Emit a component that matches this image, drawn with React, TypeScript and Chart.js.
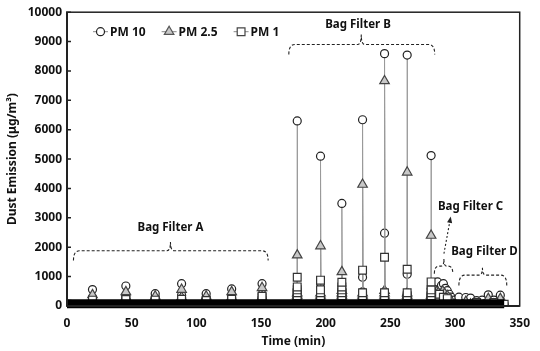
import React, { useEffect, useRef } from 'react';
import { Chart, registerables } from 'chart.js';

Chart.register(...registerables);

// ---------- data (time in min, dust emission in µg/m³) ----------
const pm10Time = [
  0,
  19.2, 19.7, 19.7, 19.7, 19.7, 20.2,
  45.0, 45.5, 45.5, 45.5, 45.5, 45.5, 46.0,
  67.7, 68.2, 68.2, 68.2, 68.2, 68.7,
  88.1, 88.6, 88.6, 88.6, 88.6, 88.6, 89.1,
  107.1, 107.6, 107.6, 107.6, 107.6, 108.1,
  126.8, 127.3, 127.3, 127.3, 127.3, 127.3, 127.8,
  150.3, 150.8, 150.8, 150.8, 150.8, 150.8, 151.3,
  177.5, 178, 178, 178, 178, 178, 178, 178, 178, 178.5,
  195.5, 196, 196, 196, 196, 196, 196, 196, 196, 196.5,
  212, 212.5, 212.5, 212.5, 212.5, 212.5, 212.5, 212.5, 212.5, 213,
  228, 228.5, 228.5, 228.5, 228.5, 228.5, 228.5, 228.5, 228.5, 229,
  245, 245.5, 245.5, 245.5, 245.5, 245.5, 245.5, 245.5, 245.5, 246,
  262.5, 263, 263, 263, 263, 263, 263, 263, 263.5,
  281, 281.5, 281.5, 281.5, 281.5, 281.5, 281.5, 281.5, 282,
  286.5, 288, 289.5, 291, 292.5, 294, 295.5, 297, 299,
  303, 307, 308.3, 311, 312, 315, 316.7, 319, 321, 323, 325.7, 328, 330, 332, 335, 338,
];
const pm10Value = [
  60,
  60, 130, 210, 290, 560, 60,
  60, 130, 210, 290, 370, 680, 60,
  60, 130, 210, 290, 420, 60,
  60, 130, 210, 290, 370, 760, 60,
  60, 130, 210, 290, 420, 60,
  60, 130, 210, 290, 370, 580, 60,
  60, 130, 210, 290, 400, 760, 60,
  60, 130, 200, 270, 340, 410, 480, 550, 6300, 60,
  60, 130, 200, 270, 340, 410, 480, 780, 5100, 60,
  60, 130, 200, 270, 340, 410, 480, 550, 3490, 60,
  60, 130, 200, 270, 340, 410, 480, 980, 6340, 60,
  60, 130, 200, 270, 340, 410, 480, 2480, 8590, 60,
  60, 130, 200, 270, 340, 410, 1080, 8540, 60,
  60, 130, 200, 270, 340, 410, 600, 5120, 60,
  820, 560, 700, 760, 600, 520, 400, 300, 200,
  300, 100, 290, 100, 270, 80, 180, 80, 200, 80, 380, 80, 200, 80, 370, 60,
];

const pm25Time = [
  0,
  19.2, 19.7, 19.7, 19.7, 20.2,
  45.0, 45.5, 45.5, 45.5, 45.5, 46.0,
  67.7, 68.2, 68.2, 68.2, 68.7,
  88.1, 88.6, 88.6, 88.6, 88.6, 89.1,
  107.1, 107.6, 107.6, 107.6, 108.1,
  126.8, 127.3, 127.3, 127.3, 127.3, 127.8,
  150.3, 150.8, 150.8, 150.8, 150.8, 151.3,
  177.5, 178, 178, 178, 178, 178, 178, 178.5,
  195.5, 196, 196, 196, 196, 196, 196, 196.5,
  212, 212.5, 212.5, 212.5, 212.5, 212.5, 212.5, 212.5, 213,
  228, 228.5, 228.5, 228.5, 228.5, 228.5, 228.5, 229,
  245, 245.5, 245.5, 245.5, 245.5, 245.5, 245.5, 245.5, 246,
  262.5, 263, 263, 263, 263, 263, 263, 263.5,
  281, 281.5, 281.5, 281.5, 281.5, 281.5, 282,
  287, 289, 290.5, 292, 294, 296,
  300, 308.3, 312, 325.7, 330, 335, 338,
];
const pm25Value = [
  60,
  60, 120, 200, 380, 60,
  60, 120, 200, 300, 480, 60,
  60, 120, 200, 330, 60,
  60, 120, 200, 300, 560, 60,
  60, 120, 200, 330, 60,
  60, 120, 200, 300, 480, 60,
  60, 120, 200, 300, 620, 60,
  60, 120, 200, 280, 360, 440, 1730, 60,
  60, 120, 200, 280, 360, 440, 2040, 60,
  60, 120, 200, 280, 360, 440, 520, 1160, 60,
  60, 120, 200, 280, 360, 440, 4135, 60,
  60, 120, 200, 280, 360, 440, 520, 7660, 60,
  60, 120, 200, 280, 360, 440, 4550, 60,
  60, 120, 200, 280, 360, 2400, 60,
  450, 380, 500, 420, 350, 250,
  60, 150, 60, 250, 60, 250, 60,
];

const pm1Time = [
  0,
  19.2, 19.7, 19.7, 20.2,
  45.0, 45.5, 45.5, 46.0,
  67.7, 68.2, 68.2, 68.7,
  88.1, 88.6, 88.6, 89.1,
  107.1, 107.6, 107.6, 108.1,
  126.8, 127.3, 127.3, 127.8,
  150.3, 150.8, 150.8, 150.8, 151.3,
  177.5, 178, 178, 178, 178, 178, 178, 178, 178.5,
  195.5, 196, 196, 196, 196, 196, 196, 196.5,
  212, 212.5, 212.5, 212.5, 212.5, 212.5, 212.5, 212.5, 213,
  228, 228.5, 228.5, 228.5, 228.5, 228.5, 229,
  245, 245.5, 245.5, 245.5, 245.5, 245.5, 246,
  262.5, 263, 263, 263, 263, 263, 263.5,
  281, 281.5, 281.5, 281.5, 281.5, 281.5, 281.5, 282,
  288, 291, 294,
  300, 316.7, 330, 338,
];
const pm1Value = [
  60,
  60, 120, 200, 60,
  60, 120, 220, 60,
  60, 120, 200, 60,
  60, 120, 230, 60,
  60, 120, 190, 60,
  60, 120, 230, 60,
  60, 120, 200, 330, 60,
  60, 150, 250, 350, 450, 550, 650, 980, 60,
  60, 150, 250, 350, 450, 550, 880, 60,
  60, 150, 250, 350, 450, 550, 650, 810, 60,
  60, 150, 250, 350, 450, 1220, 60,
  60, 150, 250, 350, 450, 1660, 60,
  60, 150, 250, 350, 450, 1250, 60,
  60, 150, 250, 350, 450, 550, 820, 60,
  400, 300, 250,
  60, 120, 120, 60,
];

// dense near-zero readings drawn as a solid band
const bandTime = [0, 338];
const bandValue = [80, 80];

const xTicks = [0, 50, 100, 150, 200, 250, 300, 350];
const yTicks = [0, 1000, 2000, 3000, 4000, 5000, 6000, 7000, 8000, 9000, 10000];

const seriesLabels = ['PM 10', 'PM 2.5', 'PM 1'];

// bracket annotations (data coordinates)
const braces = [
  { label: 'Bag Filter A', x1: 5, x2: 155.5, yLine: 1880, yEnd: 1550, xTip: 80, yTip: 2180, tx: 80, ty: 2680 },
  { label: 'Bag Filter B', x1: 171.5, x2: 284.3, yLine: 8900, yEnd: 8560, xTip: 227.5, yTip: 9240, tx: 225, ty: 9560 },
  { label: 'Bag Filter C', x1: 284, x2: 298.3, yLine: 1356, yEnd: 1100, xTip: 291.4, yTip: 1600, tx: 312, ty: 3390 },
  { label: 'Bag Filter D', x1: 303, x2: 340, yLine: 1050, yEnd: 700, xTip: 321.2, yTip: 1300, tx: 322.7, ty: 1864 },
];
const arrowC = { x1: 291.4, y1: 1780, x2: 296.4, y2: 2980 };

const FONT = '"Noto Sans", "DejaVu Sans", sans-serif';

const zip = (xs: number[], ys: number[]) => xs.map((x, i) => ({ x, y: ys[i] }));

function drawMarker(ctx: CanvasRenderingContext2D, style: string, x: number, y: number, r: number, fill: string, stroke: string) {
  ctx.save();
  ctx.beginPath();
  if (style === 'circle') {
    ctx.arc(x, y, r, 0, Math.PI * 2);
  } else if (style === 'triangle') {
    ctx.moveTo(x, y - r);
    ctx.lineTo(x + r * 0.866, y + r * 0.5);
    ctx.lineTo(x - r * 0.866, y + r * 0.5);
    ctx.closePath();
  } else {
    const s = r * Math.SQRT1_2;
    ctx.rect(x - s, y - s, 2 * s, 2 * s);
  }
  ctx.fillStyle = fill;
  ctx.fill();
  ctx.strokeStyle = stroke;
  ctx.lineWidth = 1.2;
  ctx.stroke();
  ctx.restore();
}

const framePlugin = {
  id: 'frame',
  afterDatasetsDraw(chart: any) {
    const { ctx, chartArea: a, scales } = chart;
    ctx.save();
    // frame
    ctx.strokeStyle = '#222';
    ctx.lineWidth = 1.5;
    ctx.strokeRect(a.left, a.top, a.right - a.left, a.bottom - a.top);
    ctx.lineWidth = 2;
    ctx.beginPath();
    ctx.moveTo(a.left, a.top);
    ctx.lineTo(a.left, a.bottom);
    ctx.moveTo(a.left, a.bottom);
    ctx.lineTo(a.right, a.bottom);
    ctx.stroke();
    // inward y tick marks
    ctx.lineWidth = 1.5;
    ctx.beginPath();
    yTicks.forEach((v) => {
      const py = scales.y.getPixelForValue(v);
      ctx.moveTo(a.left - 1, py);
      ctx.lineTo(a.left + 4, py);
    });
    ctx.stroke();

    // braces
    ctx.strokeStyle = '#222';
    ctx.lineWidth = 1.1;
    ctx.setLineDash([3, 2]);
    braces.forEach((b) => {
      const x1 = scales.x.getPixelForValue(b.x1);
      const x2 = scales.x.getPixelForValue(b.x2);
      const xt = scales.x.getPixelForValue(b.xTip);
      const yl = scales.y.getPixelForValue(b.yLine);
      const ye = scales.y.getPixelForValue(b.yEnd);
      const yt = scales.y.getPixelForValue(b.yTip);
      const r = Math.min(6, (x2 - x1) / 4);
      ctx.beginPath();
      ctx.moveTo(x1, ye);
      ctx.quadraticCurveTo(x1, yl, x1 + r, yl);
      ctx.lineTo(xt - r * 0.6, yl);
      ctx.quadraticCurveTo(xt, yl, xt, yt);
      ctx.quadraticCurveTo(xt, yl, xt + r * 0.6, yl);
      ctx.lineTo(x2 - r, yl);
      ctx.quadraticCurveTo(x2, yl, x2, ye);
      ctx.stroke();
    });
    // dotted arrow for C
    const ax1 = scales.x.getPixelForValue(arrowC.x1);
    const ay1 = scales.y.getPixelForValue(arrowC.y1);
    const ax2 = scales.x.getPixelForValue(arrowC.x2);
    const ay2 = scales.y.getPixelForValue(arrowC.y2);
    ctx.setLineDash([2, 2]);
    ctx.beginPath();
    ctx.moveTo(ax1, ay1);
    ctx.lineTo(ax2, ay2);
    ctx.stroke();
    ctx.setLineDash([]);
    const ang = Math.atan2(ay2 - ay1, ax2 - ax1);
    ctx.fillStyle = '#222';
    ctx.beginPath();
    ctx.moveTo(ax2 + Math.cos(ang) * 2, ay2 + Math.sin(ang) * 2);
    ctx.lineTo(ax2 + Math.cos(ang + 2.6) * 5, ay2 + Math.sin(ang + 2.6) * 5);
    ctx.lineTo(ax2 + Math.cos(ang - 2.6) * 5, ay2 + Math.sin(ang - 2.6) * 5);
    ctx.closePath();
    ctx.fill();

    // labels
    ctx.fillStyle = '#111';
    ctx.font = `bold 11.5px ${FONT}`;
    ctx.textAlign = 'center';
    ctx.textBaseline = 'middle';
    braces.forEach((b) => {
      ctx.fillText(b.label, scales.x.getPixelForValue(b.tx), scales.y.getPixelForValue(b.ty));
    });

    // legend
    const styles = ['circle', 'triangle', 'rect'];
    const fills = ['#fff', '#c8c8c8', '#fff'];
    const strokes = ['#222', '#555', '#444'];
    const radii = [4, 5.5, 5.5];
    let lx = a.left + 26;
    const ly = a.top + 19.5;
    ctx.font = `bold 12px ${FONT}`;
    ctx.textAlign = 'left';
    seriesLabels.forEach((lab, i) => {
      ctx.strokeStyle = '#888';
      ctx.lineWidth = 1;
      ctx.beginPath();
      ctx.moveTo(lx, ly);
      ctx.lineTo(lx + 15, ly);
      ctx.stroke();
      drawMarker(ctx, styles[i], lx + 7.5, ly, radii[i], fills[i], strokes[i]);
      ctx.fillStyle = '#111';
      ctx.fillText(lab, lx + 17, ly + 0.5);
      lx += 17 + ctx.measureText(lab).width + 16;
    });
    ctx.restore();
  },
};

export default function App() {
  const ref = useRef<HTMLCanvasElement | null>(null);

  useEffect(() => {
    if (!ref.current) return;
    const lineCommon = {
      showLine: true,
      borderColor: '#9a9a9a',
      borderWidth: 1,
      tension: 0,
      pointBorderWidth: 1.2,
    };
    const tickFont = { family: FONT, size: 12, weight: 'bold' };
    const chart = new Chart(ref.current, {
      type: 'line',
      data: {
        datasets: [
          {
            label: 'band',
            data: zip(bandTime, bandValue),
            borderColor: '#000',
            borderWidth: 9,
            pointRadius: 0,
            order: 0,
            clip: false,
          } as any,
          {
            ...lineCommon,
            label: seriesLabels[2],
            data: zip(pm1Time, pm1Value),
            pointStyle: 'rect',
            pointRadius: 5.5,
            pointBackgroundColor: '#fff',
            pointBorderColor: '#333',
            order: 1,
          },
          {
            ...lineCommon,
            label: seriesLabels[1],
            data: zip(pm25Time, pm25Value),
            pointStyle: 'triangle',
            pointRadius: 5.5,
            pointBackgroundColor: '#c8c8c8',
            pointBorderColor: '#444',
            order: 2,
          },
          {
            ...lineCommon,
            label: seriesLabels[0],
            data: zip(pm10Time, pm10Value),
            pointStyle: 'circle',
            pointRadius: 4,
            pointBackgroundColor: '#fff',
            pointBorderColor: '#222',
            order: 3,
          },
        ],
      },
      options: {
        responsive: false,
        animation: false,
        events: [],
        layout: { padding: { top: 11, right: 11, left: 0, bottom: 0 } },
        plugins: { legend: { display: false }, tooltip: { enabled: false } },
        scales: {
          x: {
            type: 'linear',
            min: 0,
            max: 350,
            afterFit: (s: any) => { s.height = 45; },
            afterBuildTicks: (s: any) => { s.ticks = xTicks.map((v) => ({ value: v })); },
            grid: { display: false, drawTicks: false },
            border: { display: false },
            ticks: { color: '#111', font: tickFont, padding: 10, maxRotation: 0, callback: (v: any) => String(v) },
            title: {
              display: true,
              text: 'Time (min)',
              color: '#111',
              font: { family: FONT, size: 12, weight: 'bold' },
              padding: { top: 0, bottom: 2 },
            },
          },
          y: {
            type: 'linear',
            min: 0,
            max: 10000,
            afterFit: (s: any) => { s.width = 67; },
            afterBuildTicks: (s: any) => { s.ticks = yTicks.map((v) => ({ value: v })); },
            grid: { display: false, drawTicks: false },
            border: { display: false },
            ticks: { color: '#111', font: tickFont, padding: 5, callback: (v: any) => String(v) },
            title: {
              display: true,
              text: 'Dust Emission (μg/m³)',
              color: '#111',
              font: { family: FONT, size: 12, weight: 'bold' },
              padding: { top: 5, bottom: 0 },
            },
          },
        },
      } as any,
      plugins: [framePlugin],
    });
    return () => chart.destroy();
  }, []);

  return (
    <div style={{ position: 'absolute', left: 0, top: 0, width: 540, height: 351, background: '#fff' }}>
      <canvas ref={ref} width={540} height={351} />
    </div>
  );
}
